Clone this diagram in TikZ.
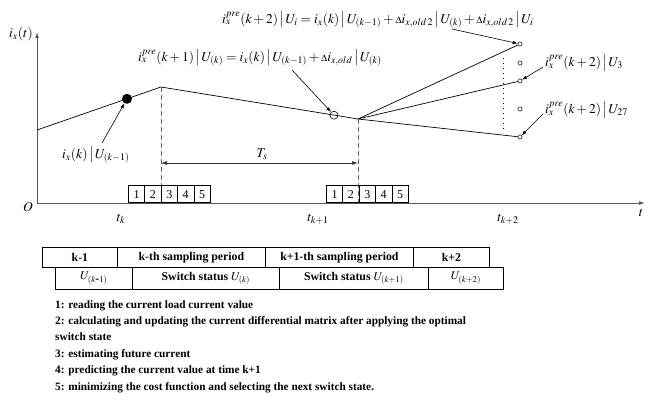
\documentclass[tikz,border=0pt]{standalone}
\usepackage{mathptmx}
\usepackage{fontspec}
\setmainfont{Liberation Serif}
\usetikzlibrary{arrows.meta}
\newcommand{\bb}{\,\big|\,}
\newcommand{\dlt}{{\scriptstyle\Delta}}
\begin{document}
\begin{tikzpicture}[x=1pt,y=-1pt,
  curve/.style={line width=0.7pt},
  axisline/.style={line width=1pt, black!65, -{Latex[length=6pt,width=4pt]}},
  guide/.style={line width=0.7pt, black!60, dash pattern=on 5pt off 3pt},
  ptr/.style={line width=0.6pt, -{Latex[length=5pt,width=3.5pt]}},
  smallc/.style={circle, draw, fill=white, inner sep=0pt, minimum size=4.2pt, line width=0.5pt},
  lbl/.style={font=\fontsize{13.5}{15}\selectfont, inner sep=0pt},
  stepbox/.style={draw, line width=0.6pt, minimum width=16.4pt, minimum height=17pt, inner sep=0pt, font=\fontsize{12}{13}\selectfont, anchor=south west},
  cell/.style={draw, line width=0.8pt, inner sep=0pt, font=\bfseries\fontsize{11.8}{13}\selectfont},
  listtxt/.style={anchor=base west, inner sep=0pt, font=\bfseries\fontsize{11.3}{13}\selectfont}
]
\useasboundingbox (0,0) rectangle (646,404);
% axes
\coordinate (O) at (37,203);
\coordinate (ytop) at (37,32);
\coordinate (xend) at (645,203);
\draw[axisline] (O) -- (ytop);
\draw[axisline] (O) -- (xend);
\node[lbl] (ylab) at (21,34) {$i_x(t)$};
\node[lbl] (olab) at (28,207) {$O$};
\node[lbl] (tlab) at (641,213) {$t$};
\node[lbl] (tk) at (121,219) {$t_k$};
\node[lbl] (tk1) at (318,219) {$t_{k+1}$};
\node[lbl] (tk2) at (508,219) {$t_{k+2}$};
% curve
\coordinate (p0) at (37,130);
\coordinate (p1) at (161,87);
\coordinate (p2) at (358,119);
\draw[curve] (p0) -- (p1) -- (p2);
\coordinate (q1) at (520,44);
\coordinate (q2) at (520,81);
\coordinate (q3) at (520,137);
\draw[curve] (p2) -- (q1);
\draw[curve] (p2) -- (q2);
\draw[curve] (p2) -- (q3);
\node[circle, fill, inner sep=0pt, minimum size=10pt] (fd) at (127,98.8) {};
\node[circle, draw, inner sep=0pt, minimum size=8pt, line width=0.6pt] (oc) at (334,115.2) {};
\node[smallc] (c1) at (q1) {};
\node[smallc] (c2) at (q2) {};
\node[smallc] (c3) at (q3) {};
\node[smallc] (c4) at (520,63) {};
\node[smallc] (c5) at (520,109) {};
\coordinate (dt) at (503,58);
\coordinate (db) at (503,133);
\draw[line width=0.9pt, dash pattern=on 1pt off 4pt] (dt) -- (db);
% guides
\coordinate (g1) at (161,203);
\coordinate (g2) at (358,203);
\draw[guide] (p1) -- (g1);
\draw[guide] (p2) -- (g2);
\coordinate (ts1) at (161,163);
\coordinate (ts2) at (358,163);
\draw[line width=0.7pt, black!80, {Latex[length=6pt,width=4pt]}-{Latex[length=6pt,width=4pt]}] (ts1) -- (ts2);
\node[lbl] (ts) at (262,154) {$T_s$};
% step boxes
\foreach \i in {1,...,5}{
  \node[stepbox] (a\i) at ({128+16.4*(\i-1)},203) {\i};
  \node[stepbox] (b\i) at ({326+16.4*(\i-1)},203) {\i};
}
% labels and pointers
\node[lbl, anchor=west] (L1) at (62,155) {$i_x(k)\bb U_{(k-1)}$};
\coordinate (t1) at (102,143);
\draw[ptr] (t1) -- (fd);
\node[lbl, anchor=west] (L2) at (138,58) {$i_x^{pre}(k+1)\bb U_{(k)}=i_x(k)\bb U_{(k-1)}+\dlt i_{x,old}\bb U_{(k)}$};
\coordinate (t2) at (292,70);
\draw[ptr] (t2) -- (oc);
\node[lbl, anchor=west] (L3) at (222,20) {$i_x^{pre}(k+2)\bb U_i=i_x(k)\bb U_{(k-1)}+\dlt i_{x,old\,2}\bb U_{(k)}+\dlt i_{x,old\,2}\bb U_i$};
\coordinate (t3) at (452,29);
\draw[ptr] (t3) -- (c1);
\node[lbl, anchor=west] (L4) at (545,63) {$i_x^{pre}(k+2)\bb U_3$};
\coordinate (t4) at (543,67);
\draw[ptr] (t4) -- (c2);
\node[lbl, anchor=west] (L5) at (545,110) {$i_x^{pre}(k+2)\bb U_{27}$};
\coordinate (t5) at (543,114);
\draw[ptr] (t5) -- (c3);
% table
\node[cell, minimum width=75pt, minimum height=20pt, anchor=north west] (r1a) at (42,247) {k-1};
\node[cell, minimum width=148pt, minimum height=20pt, anchor=north west] (r1b) at (117,247) {k-th sampling period};
\node[cell, minimum width=148pt, minimum height=20pt, anchor=north west] (r1c) at (265,247) {k+1-th sampling period};
\node[cell, minimum width=76pt, minimum height=20pt, anchor=north west] (r1d) at (413,247) {k+2};
\node[cell, minimum width=77pt, minimum height=22pt, anchor=north west] (r2a) at (55,267) {$U_{(k\mbox{-}1)}$};
\node[cell, minimum width=147pt, minimum height=22pt, anchor=north west] (r2b) at (132,267) {Switch status $U_{(k)}$};
\node[cell, minimum width=149pt, minimum height=22pt, anchor=north west] (r2c) at (279,267) {Switch status $U_{(k+1)}$};
\node[cell, minimum width=75pt, minimum height=22pt, anchor=north west] (r2d) at (428,267) {$U_{(k+2)}$};
% list
\node[listtxt] (n1) at (55,308) {1: reading the current load current value};
\node[listtxt] (n2) at (55,324.4) {2: calculating and updating the current differential matrix after applying the optimal};
\node[listtxt] (n2b) at (55,340.8) {switch state};
\node[listtxt] (n3) at (55,357.2) {3: estimating future current};
\node[listtxt] (n4) at (55,373.6) {4: predicting the current value at time k+1};
\node[listtxt] (n5) at (55,390) {5: minimizing the cost function and selecting the next switch state.};
\end{tikzpicture}
\end{document}
